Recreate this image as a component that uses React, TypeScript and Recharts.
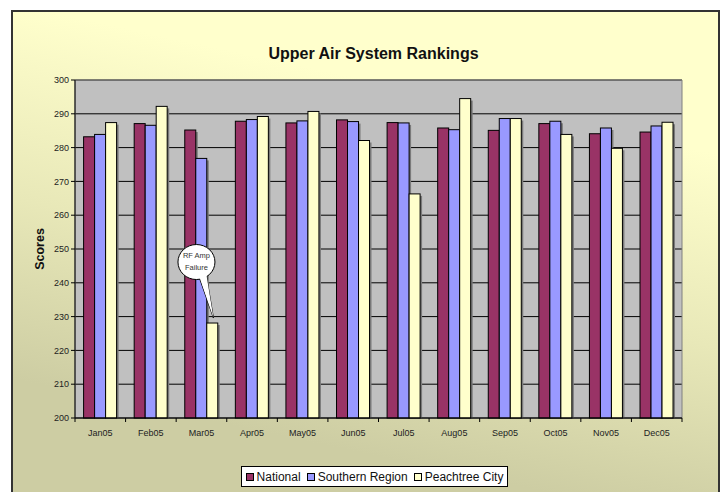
import React from 'react';
import { BarChart, Bar, XAxis, YAxis, CartesianGrid, ReferenceDot, ReferenceArea } from 'recharts';

const months = ['Jan05', 'Feb05', 'Mar05', 'Apr05', 'May05', 'Jun05', 'Jul05', 'Aug05', 'Sep05', 'Oct05', 'Nov05', 'Dec05'];
const national = [283.2, 287.1, 285.2, 287.8, 287.3, 288.2, 287.4, 285.8, 285.1, 287.1, 284.1, 284.6];
const southern = [283.9, 286.6, 276.8, 288.3, 287.9, 287.7, 287.3, 285.3, 288.6, 287.8, 285.8, 286.4];
const peachtree = [287.4, 292.2, 228.1, 289.2, 290.7, 282.1, 266.3, 294.5, 288.6, 283.9, 279.8, 287.5];
const yTicks = [200, 210, 220, 230, 240, 250, 260, 270, 280, 290, 300];

const SERIES = [
  { key: 'national', name: 'National', color: '#993366' },
  { key: 'southern', name: 'Southern Region', color: '#9999FF' },
  { key: 'peachtree', name: 'Peachtree City', color: '#FFFFCC' },
];

const FONT = 'Arial, "Liberation Sans", sans-serif';
const PLOT_LEFT = 75;
const PLOT_RIGHT = 682;
const PLOT_TOP = 80;
const PLOT_BOTTOM = 418;
const BAND = (PLOT_RIGHT - PLOT_LEFT) / months.length;

const data = months.map((m, i) => ({
  month: m,
  national: national[i],
  southern: southern[i],
  peachtree: peachtree[i],
}));

function ShadowBar(props: any) {
  const { x, y, width, height, fill } = props;
  if (!height || height <= 0) return null;
  return (
    <g>
      <rect x={x + 2} y={y + 2} width={width} height={height - 2} fill="#7a7a7a" />
      <rect x={x} y={y} width={width} height={height} fill={fill} stroke="#000" strokeWidth={1} />
    </g>
  );
}

function MonthTick(props: any) {
  const { x, y, payload, index } = props;
  const left = x - BAND / 2;
  return (
    <g>
      <line x1={left} y1={PLOT_BOTTOM} x2={left} y2={PLOT_BOTTOM + 4} stroke="#000" />
      {index === months.length - 1 && (
        <line x1={x + BAND / 2} y1={PLOT_BOTTOM} x2={x + BAND / 2} y2={PLOT_BOTTOM + 4} stroke="#000" />
      )}
      <text x={x} y={y + 10} textAnchor="middle" fontSize={9} fill="#222" fontFamily={FONT}>
        {payload.value}
      </text>
    </g>
  );
}

function Callout(props: any) {
  const { cx, cy } = props;
  // cx, cy = Mar05 centre at the Peachtree bar top
  const tipX = cx + 12;
  const tipY = cy - 5;
  const ex = cx - 5;
  const ey = cy - 61;
  return (
    <g>
      <path
        d={`M ${ex + 3} ${ey + 16} L ${tipX} ${tipY} L ${ex + 10} ${ey + 14}`}
        fill="#fff"
        stroke="#000"
        strokeWidth={1}
      />
      <ellipse cx={ex} cy={ey} rx={18.5} ry={17.5} fill="#fff" stroke="#000" strokeWidth={1} />
      <path d={`M ${ex + 3} ${ey + 15} L ${tipX} ${tipY} L ${ex + 10} ${ey + 13} Z`} fill="#fff" />
      <text x={ex} y={ey - 4} textAnchor="middle" fontSize={7.5} fontFamily={FONT} fill="#333" stroke="none">RF Amp</text>
      <text x={ex} y={ey + 8} textAnchor="middle" fontSize={7.5} fontFamily={FONT} fill="#333" stroke="none">Failure</text>
    </g>
  );
}

export default function App() {
  return (
    <div style={{ position: 'absolute', left: 0, top: 0, width: 723, height: 492, overflow: 'hidden', background: '#fff' }}>
      <div
        style={{
          position: 'absolute',
          left: 11,
          top: 10,
          width: 709,
          height: 500,
          boxSizing: 'border-box',
          border: '2px solid #333',
          background: 'linear-gradient(192deg, #FFFFCC 22%, #E8E8B8 52%, #CDCDA3 80%)',
        }}
      />
      <div
        style={{
          position: 'absolute',
          left: 0,
          width: 747,
          top: 45,
          textAlign: 'center',
          fontFamily: FONT,
          fontWeight: 'bold',
          fontSize: 16,
          color: '#111',
        }}
      >
        Upper Air System Rankings
      </div>
      <div style={{ position: 'absolute', left: 0, top: 0 }}>
        <BarChart
          width={723}
          height={492}
          data={data}
          margin={{ top: PLOT_TOP, right: 723 - PLOT_RIGHT, bottom: 492 - PLOT_BOTTOM - 30, left: PLOT_LEFT - 45 }}
          barCategoryGap="17%"
          barGap={0}
        >
          <CartesianGrid vertical={false} stroke="#000" fill="#C0C0C0" />
          <ReferenceArea y1={200} y2={300} fill="none" stroke="#808080" strokeWidth={1} ifOverflow="visible" />
          <XAxis
            dataKey="month"
            height={30}
            tickLine={false}
            axisLine={{ stroke: '#000' }}
            tick={<MonthTick />}
            interval={0}
          />
          <YAxis
            width={45}
            domain={[200, 300]}
            ticks={yTicks}
            interval={0}
            axisLine={{ stroke: '#000' }}
            tickLine={{ stroke: '#000' }}
            tickSize={4}
            tick={{ fontSize: 9, fill: '#222', fontFamily: FONT }}
            label={{
              value: 'Scores',
              angle: -90,
              position: 'insideLeft',
              offset: 10,
              style: { fontSize: 12.5, fontWeight: 'bold', fill: '#111', fontFamily: FONT, textAnchor: 'middle' },
            }}
          />
          {SERIES.map((s) => (
            <Bar
              key={s.key}
              dataKey={s.key}
              name={s.name}
              fill={s.color}
              shape={<ShadowBar />}
              isAnimationActive={false}
            />
          ))}
          <ReferenceDot x="Mar05" y={228.1} r={0} shape={<Callout />} ifOverflow="visible" />
        </BarChart>
      </div>
      <div
        style={{
          position: 'absolute',
          left: 241,
          top: 466,
          width: 267,
          height: 21,
          boxSizing: 'border-box',
          border: '1px solid #000',
          background: '#fff',
          display: 'flex',
          alignItems: 'center',
          justifyContent: 'center',
          gap: 6,
          fontFamily: FONT,
          fontSize: 12,
          color: '#111',
        }}
      >
        {SERIES.map((s) => (
          <span key={s.key} style={{ display: 'flex', alignItems: 'center', gap: 3 }}>
            <span style={{ display: 'inline-block', width: 6, height: 6, background: s.color, border: '1px solid #000' }} />
            {s.name}
          </span>
        ))}
      </div>
    </div>
  );
}
